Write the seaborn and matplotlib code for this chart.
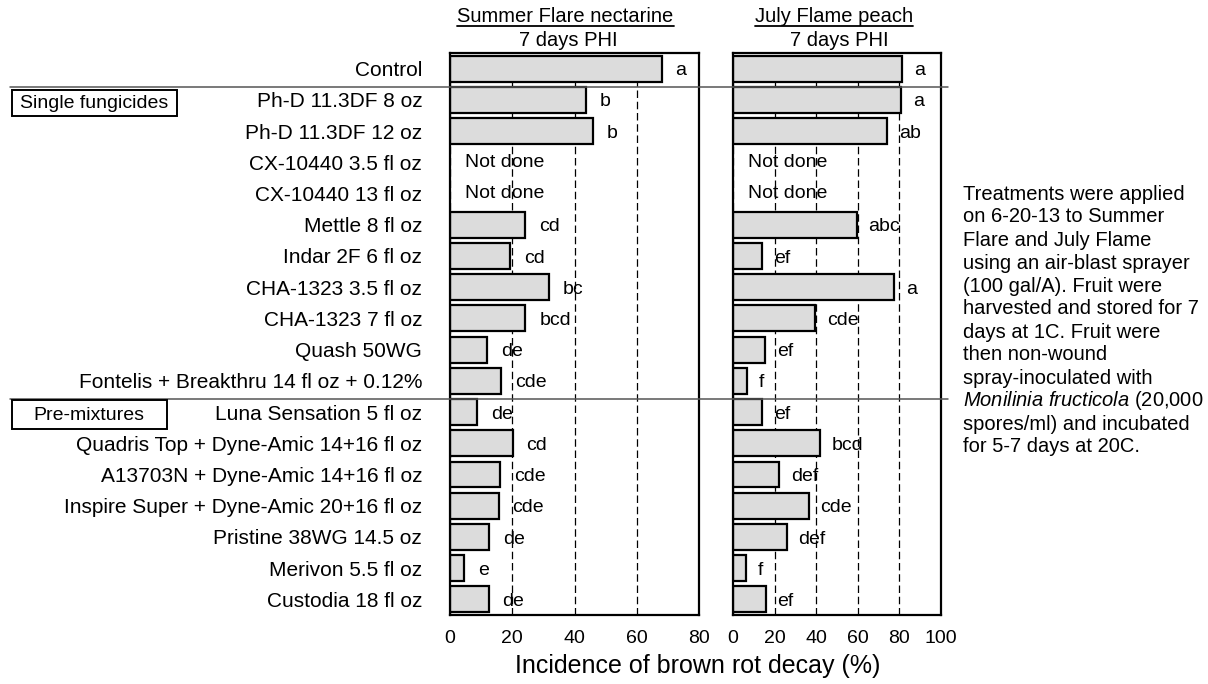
import numpy as np
import pandas as pd
import matplotlib
matplotlib.use("Agg")
import matplotlib.pyplot as plt
import seaborn as sns
from matplotlib.patches import Rectangle
from matplotlib.lines import Line2D

# ---------------- data ----------------
treatments = [
    "Control",
    "Ph-D 11.3DF 8 oz",
    "Ph-D 11.3DF 12 oz",
    "CX-10440 3.5 fl oz",
    "CX-10440 13 fl oz",
    "Mettle 8 fl oz",
    "Indar 2F 6 fl oz",
    "CHA-1323 3.5 fl oz",
    "CHA-1323 7 fl oz",
    "Quash 50WG",
    "Fontelis + Breakthru 14 fl oz + 0.12%",
    "Luna Sensation 5 fl oz",
    "Quadris Top + Dyne-Amic 14+16 fl oz",
    "A13703N + Dyne-Amic 14+16 fl oz",
    "Inspire Super + Dyne-Amic 20+16 fl oz",
    "Pristine 38WG 14.5 oz",
    "Merivon 5.5 fl oz",
    "Custodia 18 fl oz",
]
nan = np.nan
nectarine = [68.0, 43.6, 46.0, nan, nan, 24.2, 19.3, 31.8, 24.2, 11.9, 16.5,
             8.8, 20.1, 16.2, 15.6, 12.5, 4.6, 12.4]
nectarine_letters = ["a", "b", "b", "", "", "cd", "cd", "bc", "bcd", "de", "cde",
                     "de", "cd", "cde", "cde", "de", "e", "de"]
peach = [81.4, 80.8, 74.0, nan, nan, 59.5, 13.9, 77.4, 39.6, 15.5, 6.9,
         13.9, 41.8, 22.3, 36.4, 25.8, 6.3, 15.7]
peach_letters = ["a", "a", "ab", "", "", "abc", "ef", "a", "cde", "ef", "f",
                 "ef", "bcd", "def", "cde", "def", "f", "ef"]
panel_titles = [("Summer Flare nectarine", "7 days PHI"), ("July Flame peach", "7 days PHI")]
x_ticks_left = [0, 20, 40, 60, 80]
x_ticks_right = [0, 20, 40, 60, 80, 100]
x_label = "Incidence of brown rot decay (%)"
group_labels = ["Single fungicides", "Pre-mixtures"]
not_done_text = "Not done"
note_lines = [
    "Treatments were applied",
    "on 6-20-13 to Summer",
    "Flare and July Flame",
    "using an air-blast sprayer",
    "(100 gal/A). Fruit were",
    "harvested and stored for 7",
    "days at 1C. Fruit were",
    "then non-wound",
    "spray-inoculated with",
    r"$\mathit{Monilinia\ fructicola}$ (20,000",
    "spores/ml) and incubated",
    "for 5-7 days at 20C.",
]

df = pd.DataFrame({"treatment": treatments, "nectarine": nectarine, "peach": peach})

# ---------------- style ----------------
sns.set_style("white")
plt.rcParams["font.family"] = ["Liberation Sans", "DejaVu Sans"]
plt.rcParams["mathtext.fontset"] = "custom"
plt.rcParams["mathtext.rm"] = "Liberation Sans"
plt.rcParams["mathtext.it"] = "Liberation Sans:italic"
for k in ("text.color", "axes.labelcolor", "xtick.color", "ytick.color"):
    plt.rcParams[k] = "black"

W, H = 1208, 684
fig = plt.figure(figsize=(W / 100, H / 100), dpi=100)
fig.patch.set_facecolor("white")


def fx(px):
    return px / W


def fy(py):
    return 1 - py / H


ax1 = fig.add_axes([fx(450), fy(615), 249 / W, 562 / H])
ax2 = fig.add_axes([fx(733), fy(615), 208 / W, 562 / H])

bar_kw = dict(order=treatments, orient="h", color="#dcdcdc", edgecolor="black",
              linewidth=1.6, width=0.83, errorbar=None, saturation=1)
sns.barplot(data=df, y="treatment", x="nectarine", ax=ax1, **bar_kw)
sns.barplot(data=df, y="treatment", x="peach", ax=ax2, **bar_kw)

for ax, vals, letters, ticks, lim, off in [
    (ax1, nectarine, nectarine_letters, x_ticks_left, 80, 10),
    (ax2, peach, peach_letters, x_ticks_right, 100, 8.5),
]:
    ax.set_xlim(0, lim)
    ax.set_ylim(len(treatments) - 0.5, -0.5)
    ax.set_xticks(ticks)
    ax.set_xticklabels([str(t) for t in ticks])
    ax.set_xlabel("")
    ax.set_ylabel("")
    ax.grid(axis="x", linestyle=(0, (6, 3)), color="black", linewidth=0.9)
    ax.grid(axis="y", visible=False)
    ax.set_axisbelow(True)
    ax.tick_params(axis="x", direction="in", length=4, width=1, pad=11,
                   labelsize=14, colors="black")
    for s in ax.spines.values():
        s.set_visible(True)
        s.set_color("black")
        s.set_linewidth(1.6)
    for i, (v, lt) in enumerate(zip(vals, letters)):
        if np.isnan(v):
            ax.annotate(not_done_text, xy=(0, i), xytext=(11, 0),
                        textcoords="offset points", ha="left", va="center",
                        fontsize=14, color="black")
        else:
            ax.annotate(lt, xy=(v, i), xytext=(off, -1.5),
                        textcoords="offset points", ha="left", va="center",
                        fontsize=14, color="black")

ax1.tick_params(axis="y", length=0, pad=20, labelsize=15, colors="black")
ax2.set_yticks([])

# titles with underline
renderer = fig.canvas.get_renderer()
title_pos = [((565.5, 17), (568, 40)), ((833.7, 17), (839, 40))]
for (t1, t2), ((x1, y1), (x2, y2)) in zip(panel_titles, title_pos):
    tt = fig.text(fx(x1), fy(y1), t1, ha="center", va="center", fontsize=14.5,
                  color="black")
    fig.text(fx(x2), fy(y2), t2, ha="center", va="center", fontsize=14.5,
             color="black")
    bb = tt.get_window_extent(renderer=renderer)
    fig.add_artist(Line2D([bb.x0 / W, bb.x1 / W], [fy(26), fy(26)],
                          transform=fig.transFigure, color="black", lw=1.3))

# x label
fig.text(fx(698), fy(666), x_label, ha="center", va="center", fontsize=18,
         color="black")

# separator lines
for yl in (87, 399):
    fig.add_artist(Line2D([fx(10), fx(948)], [fy(yl), fy(yl)],
                          transform=fig.transFigure, color="#555555", lw=1.1,
                          zorder=5))

# group boxes
boxes = [((12, 90, 177, 116), (20, 103)), ((12, 400, 167, 429), (33, 415))]
for lab, ((bx0, by0, bx1, by1), (tx, ty)) in zip(group_labels, boxes):
    fig.add_artist(Rectangle((fx(bx0), fy(by1)), (bx1 - bx0) / W, (by1 - by0) / H,
                             transform=fig.transFigure, facecolor="white",
                             edgecolor="black", lw=1.4, zorder=6))
    fig.text(fx(tx), fy(ty), lab, ha="left", va="center", fontsize=14, zorder=7,
             color="black")

# note text
for i, line in enumerate(note_lines):
    fig.text(fx(963), fy(194 + 23 * i), line, ha="left", va="center",
             fontsize=14.5, color="black")

fig.savefig("out.png", dpi=100, facecolor="white")
